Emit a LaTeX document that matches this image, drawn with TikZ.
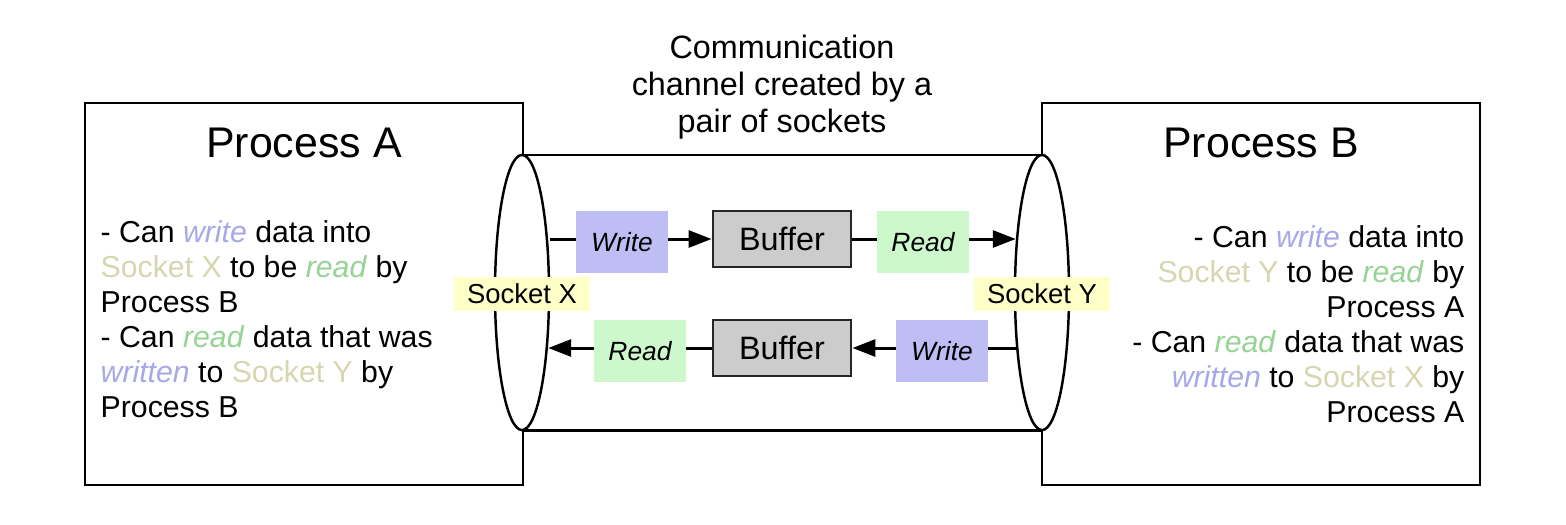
\documentclass[tikz,border=0pt]{standalone}
\usepackage{fontspec}
\setmainfont{Liberation Sans}
\usetikzlibrary{shapes.geometric,arrows.meta}
\definecolor{wfill}{RGB}{190,190,245}
\definecolor{rfill}{RGB}{204,248,204}
\definecolor{yfill}{RGB}{255,255,200}
\definecolor{bfill}{RGB}{204,204,204}
\definecolor{wtext}{RGB}{168,168,232}
\definecolor{rtext}{RGB}{150,212,150}
\definecolor{stext}{RGB}{214,214,176}
\newcommand{\tw}[1]{\textcolor{wtext}{\textit{#1}}}
\newcommand{\tr}[1]{\textcolor{rtext}{\textit{#1}}}
\newcommand{\ts}[1]{\textcolor{stext}{#1}}
\begin{document}
\begin{tikzpicture}[x=0.01cm,y=-0.01cm,
  procbox/.style={draw, line width=0.7pt, minimum width=4.38cm, minimum height=3.82cm, inner sep=0},
  proctitle/.style={font=\fontsize{12.2pt}{14pt}\selectfont, inner sep=0},
  bodytext/.style={font=\fontsize{8.6pt}{9.95pt}\selectfont, inner sep=0},
  sockell/.style={ellipse, draw, line width=0.7pt, fill=white, minimum width=0.54cm, minimum height=2.75cm, inner sep=0},
  socklabel/.style={fill=yfill, minimum width=1.36cm, minimum height=0.34cm, inner sep=0, font=\fontsize{7.8pt}{9pt}\selectfont},
  opbox/.style={minimum width=0.91cm, minimum height=0.61cm, inner sep=0, font=\fontsize{7.5pt}{9pt}\selectfont\itshape},
  wbox/.style={opbox, fill=wfill},
  rbox/.style={opbox, fill=rfill},
  bufbox/.style={draw, draw=black!85, line width=0.8pt, fill=bfill, minimum width=1.38cm, minimum height=0.56cm, inner sep=0, font=\fontsize{9.2pt}{11pt}\selectfont},
  conn/.style={line width=0.85pt},
  arr/.style={conn, -{Triangle[length=6.5pt,width=4.8pt]}},
  cyl/.style={line width=0.85pt}
]
\fill[white] (0,0) rectangle (1566,524);
\useasboundingbox (0,0) rectangle (1566,524);

% process boxes
\node[procbox] (pa) at (304,294) {};
\node[procbox] (pb) at (1261,294) {};
\node[proctitle, anchor=base] (ta) at (304,157) {Process A};
\node[proctitle, anchor=base] (tb) at (1261,157) {Process B};

% channel title
\node[font=\fontsize{9.2pt}{10.5pt}\selectfont, align=center, inner sep=0, anchor=north] (ct) at (782,34)
  {Communication\\channel created by a\\pair of sockets};

% body texts
\node[bodytext, align=left, anchor=north west] (txa) at (100,220)
  {- Can \tw{write} data into\\
   \ts{Socket X} to be \tr{read} by\\
   Process B\\
   - Can \tr{read} data that was\\
   \tw{written} to \ts{Socket Y} by\\
   Process B};
\node[bodytext, align=right, anchor=north east] (txb) at (1465,225)
  {- Can \tw{write} data into\\
   \ts{Socket Y} to be \tr{read} by\\
   Process A\\
   - Can \tr{read} data that was\\
   \tw{written} to \ts{Socket X} by\\
   Process A};

% sockets (cylinder)
\coordinate (cxn) at (522,155);
\coordinate (cyn) at (1042,155);
\coordinate (cxs) at (522,430);
\coordinate (cys) at (1042,430);
\draw[cyl] (cxn) -- (cyn);
\draw[cyl] (cxs) -- (cys);
\node[sockell] (ex) at (522,292.5) {};
\node[sockell] (ey) at (1042,292.5) {};

% upper row
\node[wbox] (w1) at (622,242) {Write};
\node[bufbox] (b1) at (782,239) {Buffer};
\node[rbox] (r1) at (923,242) {Read};
\draw[conn] (ex.east |- b1.west) -- (w1.west |- b1.west);
\draw[arr] (w1.east |- b1.west) -- (b1.west);
\draw[conn] (b1.east) -- (r1.west |- b1.east);
\draw[arr] (r1.east |- b1.east) -- ([xshift=0.02cm]ey.west |- b1.east);

% lower row
\node[rbox] (r2) at (640,351) {Read};
\node[bufbox] (b2) at (782,348) {Buffer};
\node[wbox] (w2) at (942,351) {Write};
\draw[conn] ([xshift=0.02cm]ey.west |- b2.east) -- (w2.east |- b2.east);
\draw[arr] (w2.west |- b2.east) -- (b2.east);
\draw[conn] (b2.west) -- (r2.east |- b2.west);
\draw[arr] (r2.west |- b2.west) -- ([xshift=-0.02cm]ex.east |- b2.west);

% socket labels
\node[socklabel] (lx) at (522,294) {Socket X};
\node[socklabel] (ly) at (1042,294) {Socket Y};
\end{tikzpicture}
\end{document}
